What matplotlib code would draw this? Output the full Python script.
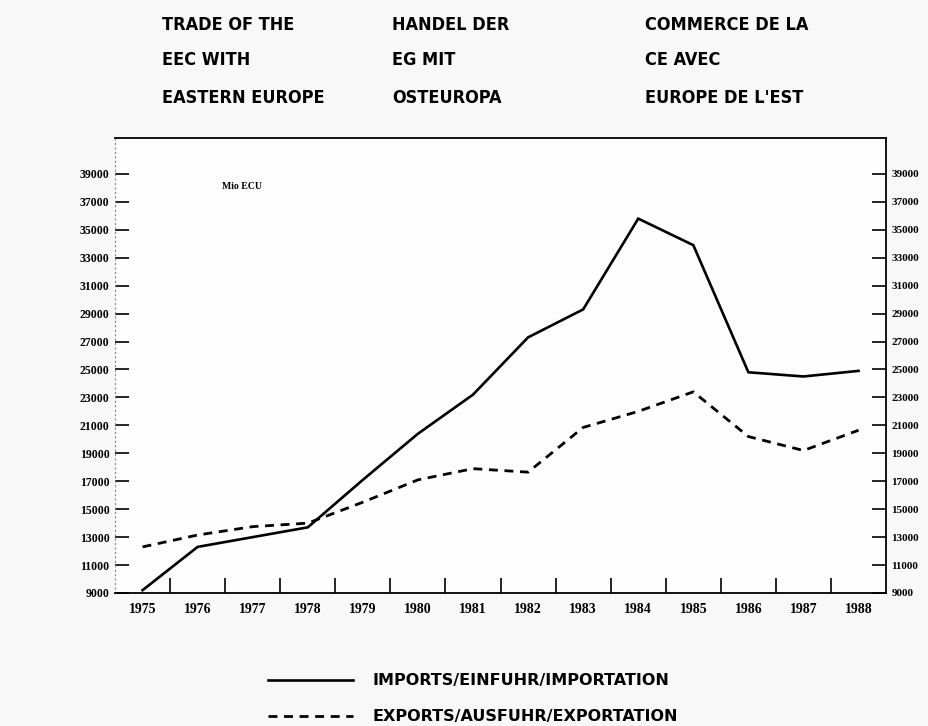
import matplotlib
matplotlib.use("Agg")
import matplotlib.pyplot as plt
from matplotlib.ticker import FixedLocator

years = [1975, 1976, 1977, 1978, 1979, 1980, 1981, 1982, 1983, 1984, 1985, 1986, 1987, 1988]
imports = [9200, 12300, 13000, 13700, 17100, 20400, 23200, 27300, 29300, 35800, 33900, 24800, 24500, 24900]
exports = [12300, 13150, 13750, 14000, 15500, 17100, 17900, 17650, 20850, 22000, 23400, 20200, 19200, 20650]
ytick_values = list(range(9000, 39001, 2000))
title_cols = [["TRADE OF THE", "EEC WITH", "EASTERN EUROPE"],
              ["HANDEL DER", "EG MIT", "OSTEUROPA"],
              ["COMMERCE DE LA", "CE AVEC", "EUROPE DE L'EST"]]
legend_labels = ["IMPORTS/EINFUHR/IMPORTATION", "EXPORTS/AUSFUHR/EXPORTATION"]
unit_label = "Mio ECU"

fig = plt.figure(figsize=(9.29, 7.26), dpi=100, facecolor="#f8f8f8")
ax = fig.add_axes([0.1238, 0.1832, 0.83, 0.6267])
ax.set_facecolor("#fdfdfd")

l1, = ax.plot(years, imports, color="black", lw=1.9, solid_joinstyle="miter")
l2, = ax.plot(years, exports, color="black", lw=2.0, linestyle=(0, (3.2, 2.4)))

ax.set_xlim(1974.5, 1988.5)
ax.set_ylim(9000, 41570)

# x: boundary ticks at half years, labels at years
ax.xaxis.set_major_locator(FixedLocator([y + 0.5 for y in years[:-1]]))
ax.xaxis.set_minor_locator(FixedLocator(years))
ax.set_xticklabels([])
ax.set_xticklabels([str(y) for y in years], minor=True)
ax.tick_params(axis="x", which="major", direction="in", length=11, width=1.2, top=False)
ax.tick_params(axis="x", which="minor", length=0, pad=7, labelsize=10)
for lab in ax.get_xticklabels(minor=True):
    lab.set_fontfamily("Liberation Serif")
    lab.set_fontweight("bold")

ax.set_yticks(ytick_values)
ax.set_yticklabels([str(v) for v in ytick_values])
ax.tick_params(axis="y", which="major", direction="in", length=10, width=1.2,
               left=True, right=True, labelleft=True, labelright=True, pad=4)
for t in ax.yaxis.get_major_ticks():
    for lab in (t.label1, t.label2):
        lab.set_fontfamily("Liberation Serif")
        lab.set_fontweight("bold")
        lab.set_fontsize(8.5)
    t.label2.set_fontsize(8)

ax.spines["left"].set_linestyle((0, (1, 3)))
ax.spines["left"].set_color("#888888")
ax.spines["left"].set_linewidth(0.8)
for s in ["top", "right", "bottom"]:
    ax.spines[s].set_linewidth(1.3)

ax.text(0.139, 0.894, unit_label, transform=ax.transAxes, ha="left", va="center",
        fontsize=7, fontweight="bold", family="Liberation Serif")

col_x = [162 / 929, 392 / 929, 645 / 929]
row_y = [1 - 25 / 726, 1 - 60 / 726, 1 - 98 / 726]
for cx, col in zip(col_x, title_cols):
    for ry, txt in zip(row_y, col):
        fig.text(cx, ry, txt, ha="left", va="center", fontsize=13, fontweight="bold",
                 fontstretch="condensed", family="DejaVu Sans")

leg = fig.legend([l1, l2], legend_labels, loc="upper left",
                 bbox_to_anchor=(254 / 929, 1 - 659 / 726), frameon=False,
                 handlelength=5.3, handletextpad=1.2, labelspacing=1.3,
                 prop={"family": "DejaVu Sans", "weight": "bold", "size": 11.5})

fig.savefig("out.png", dpi=100, facecolor=fig.get_facecolor())
